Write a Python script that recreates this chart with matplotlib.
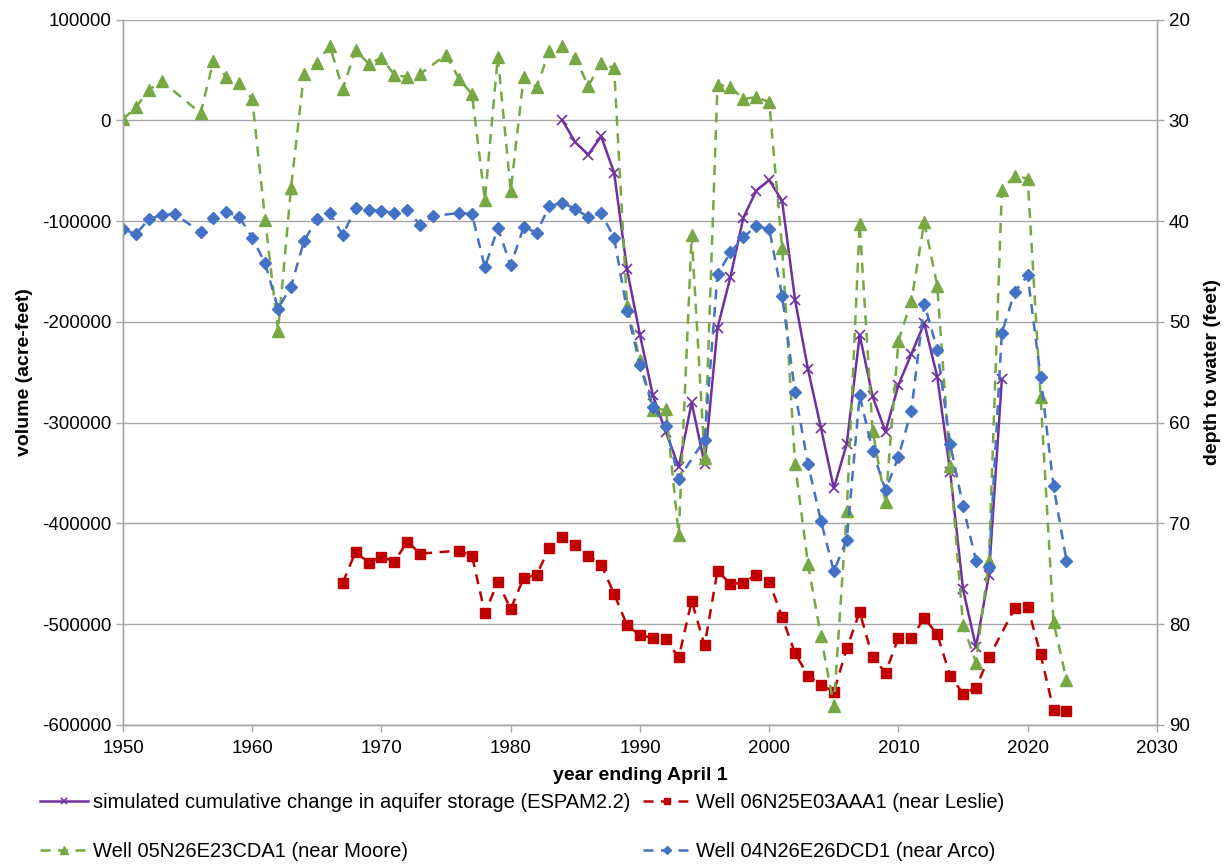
import matplotlib
matplotlib.use("Agg")
import matplotlib.pyplot as plt

plt.rcParams['font.family'] = ['Liberation Sans', 'DejaVu Sans']
plt.rcParams['axes.unicode_minus'] = False

# simulated cumulative change in aquifer storage (acre-feet, left axis)
sim_years = list(range(1984, 2019))
sim_volume = [0, -22000, -34000, -16000, -52000, -148000, -213000, -273000,
              -309000, -344000, -280000, -341000, -206000, -155500, -96600,
              -69800, -59200, -80100, -178000, -247000, -305000, -365000,
              -321000, -213000, -274000, -309000, -262600, -231800, -201400,
              -254400, -348500, -465500, -522600, -451500, -257000]

# Well 06N25E03AAA1 (near Leslie), depth to water in feet
leslie_years = [1967, 1968, 1969, 1970, 1971, 1972, 1973, 1976, 1977, 1978,
                1979, 1980, 1981, 1982, 1983, 1984, 1985, 1986, 1987, 1988,
                1989, 1990, 1991, 1992, 1993, 1994, 1995, 1996, 1997, 1998,
                1999, 2000, 2001, 2002, 2003, 2004, 2005, 2006, 2007, 2008,
                2009, 2010, 2011, 2012, 2013, 2014, 2015, 2016, 2017, 2019,
                2020, 2021, 2022, 2023]
leslie_depth = [75.9, 72.8, 73.9, 73.3, 73.8, 71.8, 73.0, 72.7, 73.2, 78.9,
                75.8, 78.5, 75.4, 75.1, 72.4, 71.3, 72.1, 73.2, 74.1, 77.0,
                80.1, 81.1, 81.35, 81.5, 83.3, 77.7, 82.1, 74.7, 76.0, 75.9,
                75.1, 75.8, 79.3, 82.9, 85.1, 86.0, 86.7, 82.4, 78.8, 83.3,
                84.8, 81.35, 81.35, 79.4, 81.0, 85.1, 86.9, 86.3, 83.3, 78.4,
                78.3, 83.0, 88.5, 88.6]

# Well 05N26E23CDA1 (near Moore), depth to water in feet
moore_years = [1950, 1951, 1952, 1953, 1956, 1957, 1958, 1959, 1960, 1961,
               1962, 1963, 1964, 1965, 1966, 1967, 1968, 1969, 1970, 1971,
               1972, 1973, 1975, 1976, 1977, 1978, 1979, 1980, 1981, 1982,
               1983, 1984, 1985, 1986, 1987, 1988, 1989, 1990, 1991, 1992,
               1993, 1994, 1995, 1996, 1997, 1998, 1999, 2000, 2001, 2002,
               2003, 2004, 2005, 2006, 2007, 2008, 2009, 2010, 2011, 2012,
               2013, 2014, 2015, 2016, 2017, 2018, 2019, 2020, 2021, 2022,
               2023]
moore_depth = [29.9, 28.7, 27.0, 26.1, 29.3, 24.1, 25.7, 26.3, 27.9, 39.9,
               50.9, 36.7, 25.4, 24.3, 22.6, 26.9, 23.0, 24.4, 23.8, 25.5,
               25.7, 25.4, 23.5, 25.9, 27.4, 37.9, 23.7, 37.0, 25.7, 26.7,
               23.1, 22.6, 23.8, 26.6, 24.3, 24.85, 48.4, 53.8, 58.75, 58.65,
               71.1, 41.4, 63.5, 26.45, 26.7, 27.9, 27.7, 28.2, 42.65, 64.1,
               74.0, 81.2, 88.1, 68.8, 40.3, 60.8, 67.9, 51.9, 47.9, 40.1,
               46.4, 64.3, 80.1, 83.8, 73.7, 36.9, 35.5, 35.8, 57.5, 79.8,
               85.5]

# Well 04N26E26DCD1 (near Arco), depth to water in feet
arco_years = [1950, 1951, 1952, 1953, 1954, 1956, 1957, 1958, 1959, 1960,
              1961, 1962, 1963, 1964, 1965, 1966, 1967, 1968, 1969, 1970,
              1971, 1972, 1973, 1974, 1976, 1977, 1978, 1979, 1980, 1981,
              1982, 1983, 1984, 1985, 1986, 1987, 1988, 1989, 1990, 1991,
              1992, 1993, 1995, 1996, 1997, 1998, 1999, 2000, 2001, 2002,
              2003, 2004, 2005, 2006, 2007, 2008, 2009, 2010, 2011, 2012,
              2013, 2014, 2015, 2016, 2017, 2018, 2019, 2020, 2021, 2022,
              2023]
arco_depth = [40.8, 41.3, 39.8, 39.4, 39.3, 41.1, 39.7, 39.1, 39.6, 41.65,
              44.2, 48.7, 46.5, 42.0, 39.8, 39.2, 41.4, 38.7, 38.9, 39.0,
              39.2, 38.9, 40.4, 39.5, 39.2, 39.3, 44.6, 40.7, 44.4, 40.6,
              41.15, 38.5, 38.2, 38.8, 39.6, 39.2, 41.65, 48.9, 54.3, 58.4,
              60.3, 65.55, 61.7, 45.3, 43.1, 41.6, 40.5, 40.8, 47.4, 57.0,
              64.1, 69.75, 74.75, 71.6, 57.3, 62.8, 66.7, 63.4, 58.8, 48.2,
              52.75, 62.1, 68.3, 73.7, 74.35, 51.1, 47.0, 45.4, 55.5, 66.3,
              73.7]

fig = plt.figure(figsize=(12.3, 8.67), dpi=100)
ax = fig.add_axes([0.1, 0.1638, 0.8406, 0.8137])
ax2 = ax.twinx()

grid_color = '#A6A6A6'

l_sim, = ax.plot(sim_years, sim_volume, color='#7030A0', linewidth=1.8,
                 marker='x', markersize=7, markeredgewidth=1.2,
                 label='simulated cumulative change in aquifer storage (ESPAM2.2)')
l_les, = ax2.plot(leslie_years, leslie_depth, color='#C00000', linewidth=1.8,
                  linestyle=(0, (4, 3)), marker='s', markersize=7,
                  label='Well 06N25E03AAA1 (near Leslie)')
l_moo, = ax2.plot(moore_years, moore_depth, color='#77A844', linewidth=1.8,
                  linestyle=(0, (4, 3)), marker='^', markersize=8,
                  label='Well 05N26E23CDA1 (near Moore)')
l_arc, = ax2.plot(arco_years, arco_depth, color='#4472C4', linewidth=1.8,
                  linestyle=(0, (4, 3)), marker='D', markersize=6,
                  label='Well 04N26E26DCD1 (near Arco)')

ax.set_xlim(1950, 2030)
ax.set_ylim(-600000, 100000)
ax.set_yticks(range(-600000, 100001, 100000))
ax2.set_ylim(90, 20)
ax2.set_yticks(range(20, 91, 10))
ax.set_xticks(range(1950, 2031, 10))

ax.yaxis.grid(True, color=grid_color, linewidth=1.0)
ax.set_axisbelow(True)

for a in (ax, ax2):
    a.spines['top'].set_visible(False)
    for s in ('left', 'right', 'bottom'):
        a.spines[s].set_color(grid_color)
        a.spines[s].set_linewidth(1.0)
    a.tick_params(axis='both', colors=grid_color, labelcolor='black',
                  labelsize=13.5, length=5, width=1.0)
ax.tick_params(axis='x', pad=6)

ax.set_xlabel('year ending April 1', fontsize=14, fontweight='bold', labelpad=7)
ax.set_ylabel('volume (acre-feet)', fontsize=14, fontweight='bold', labelpad=6)
ax2.set_ylabel('depth to water (feet)', fontsize=14, fontweight='bold', labelpad=10)

fig.legend(handles=[l_sim, l_moo, l_les, l_arc], loc='upper left',
           bbox_to_anchor=(40 / 1230, 1 - 793 / 867), ncol=2, frameon=False,
           fontsize=14.5, handlelength=2.4, handletextpad=0.25,
           columnspacing=0.6, labelspacing=1.5, markerscale=0.7,
           borderpad=0, borderaxespad=0)

fig.savefig('out.png', dpi=100)
